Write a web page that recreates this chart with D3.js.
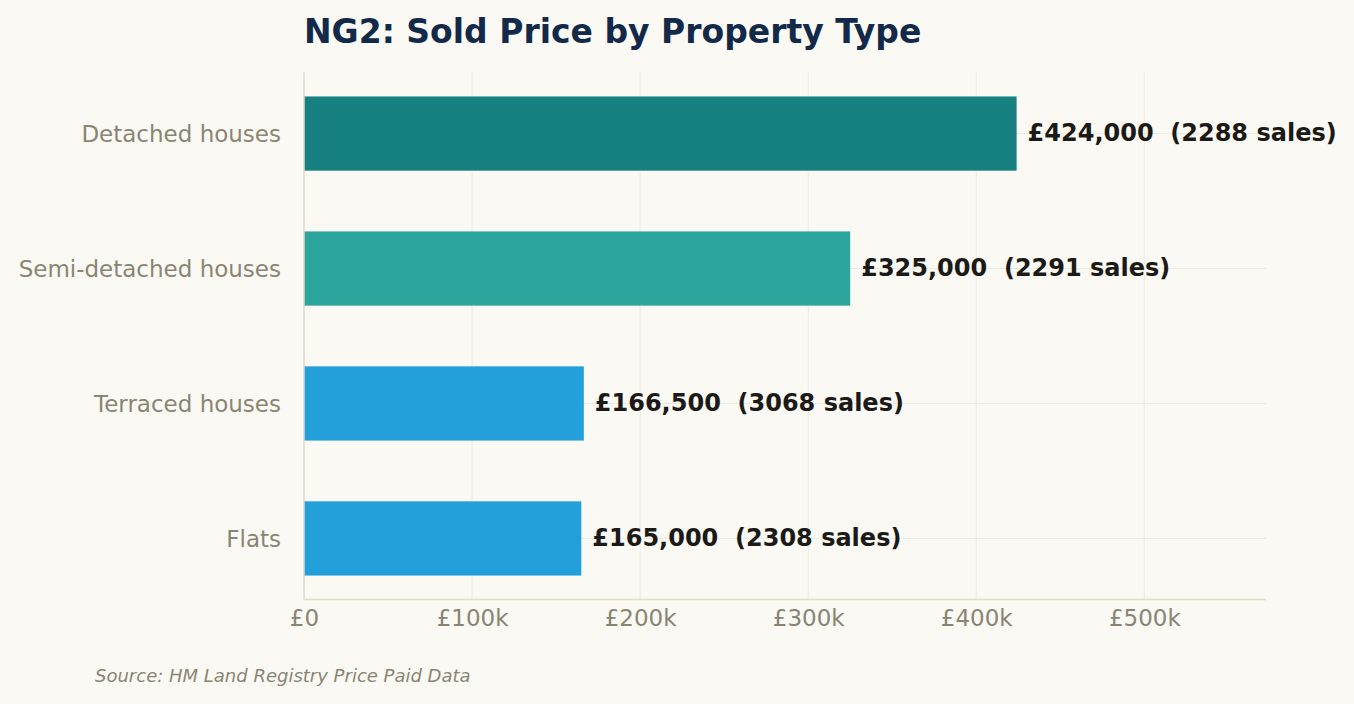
<!DOCTYPE html>
<html>
<head>
<meta charset="utf-8">
<script src="https://cdn.jsdelivr.net/npm/d3@7/dist/d3.min.js"></script>
<style>
  html, body { margin: 0; padding: 0; background: #faf9f4; }
  svg { display: block; }
  text { font-family: "DejaVu Sans", sans-serif; }
</style>
</head>
<body>
<svg id="chart" width="1354" height="704"></svg>
<script>
const categories = ["Detached houses", "Semi-detached houses", "Terraced houses", "Flats"];
const prices = [424000, 325000, 166500, 165000];
const sales = [2288, 2291, 3068, 2308];
const barColors = ["#178080", "#2ca59c", "#239fd9", "#239fd9"];
const xTicks = [0, 100000, 200000, 300000, 400000, 500000];
const xTickLabels = ["£0", "£100k", "£200k", "£300k", "£400k", "£500k"];
const titleText = "NG2: Sold Price by Property Type";
const sourceText = "Source: HM Land Registry Price Paid Data";

const data = categories.map((c, i) => ({ cat: c, price: prices[i], sales: sales[i], color: barColors[i] }));

const svg = d3.select("#chart");
const W = 1354, H = 704;
svg.append("rect").attr("width", W).attr("height", H).attr("fill", "#faf9f4");

const plot = { left: 304, right: 1266, top: 72.5, bottom: 599.5 };

const x = d3.scaleLinear().domain([0, d3.max(prices) * 1.35]).range([plot.left, plot.right]);
const y = d3.scaleBand().domain(categories).range([plot.top, plot.bottom])
  .paddingInner(0.45).paddingOuter(0.1775);

// grid
const grid = svg.append("g");
grid.selectAll("line.vg").data(xTicks).join("line")
  .attr("x1", d => x(d)).attr("x2", d => x(d))
  .attr("y1", plot.top).attr("y2", plot.bottom)
  .attr("stroke", "#edeae2").attr("stroke-width", 1);
grid.selectAll("line.hg").data(categories).join("line")
  .attr("x1", plot.left).attr("x2", plot.right)
  .attr("y1", d => y(d) + y.bandwidth() / 2).attr("y2", d => y(d) + y.bandwidth() / 2)
  .attr("stroke", "#edeae2").attr("stroke-width", 1);

// bars
svg.append("g").selectAll("rect").data(data).join("rect")
  .attr("x", x(0)).attr("y", d => y(d.cat))
  .attr("width", d => x(d.price) - x(0)).attr("height", y.bandwidth())
  .attr("fill", d => d.color);

// spines
svg.append("line").attr("x1", plot.left).attr("x2", plot.left).attr("y1", plot.top).attr("y2", plot.bottom)
  .attr("stroke", "#e0dbcb").attr("stroke-width", 1.5);
svg.append("line").attr("x1", plot.left).attr("x2", plot.right).attr("y1", plot.bottom).attr("y2", plot.bottom)
  .attr("stroke", "#e0dbcb").attr("stroke-width", 1.5);

// x axis
const xAxis = d3.axisBottom(x).tickValues(xTicks).tickFormat((d, i) => xTickLabels[i]).tickSize(0).tickPadding(0);
const gx = svg.append("g").attr("transform", `translate(0,${plot.bottom})`).call(xAxis);
gx.select(".domain").remove();
gx.selectAll("text").attr("dy", null).attr("y", 26).attr("fill", "#8a8573")
  .style("font-size", "23px").style("font-family", "DejaVu Sans");

// y axis
const yAxis = d3.axisLeft(y).tickSize(0).tickPadding(23);
const gy = svg.append("g").attr("transform", `translate(${plot.left},0)`).call(yAxis);
gy.select(".domain").remove();
gy.selectAll("text").attr("fill", "#8a8573").attr("dy", "0.36em")
  .style("font-size", "23px").style("font-family", "DejaVu Sans");

// value labels
svg.append("g").selectAll("text").data(data).join("text")
  .attr("x", d => x(d.price) + 11)
  .attr("y", d => y(d.cat) + y.bandwidth() / 2)
  .attr("dy", "0.3em")
  .attr("fill", "#1c1a17")
  .style("font-size", "24px").style("font-weight", "bold")
  .text(d => `£${d3.format(",")(d.price)}\u00a0\u00a0(${d.sales} sales)`);

// title
svg.append("text").attr("x", plot.left).attr("y", 43)
  .attr("fill", "#12294a").style("font-size", "33px").style("font-weight", "bold")
  .text(titleText);

// source
svg.append("text").attr("x", 95).attr("y", 682)
  .attr("fill", "#8a8573").style("font-size", "18px").style("font-style", "italic")
  .text(sourceText);
</script>
</body>
</html>
